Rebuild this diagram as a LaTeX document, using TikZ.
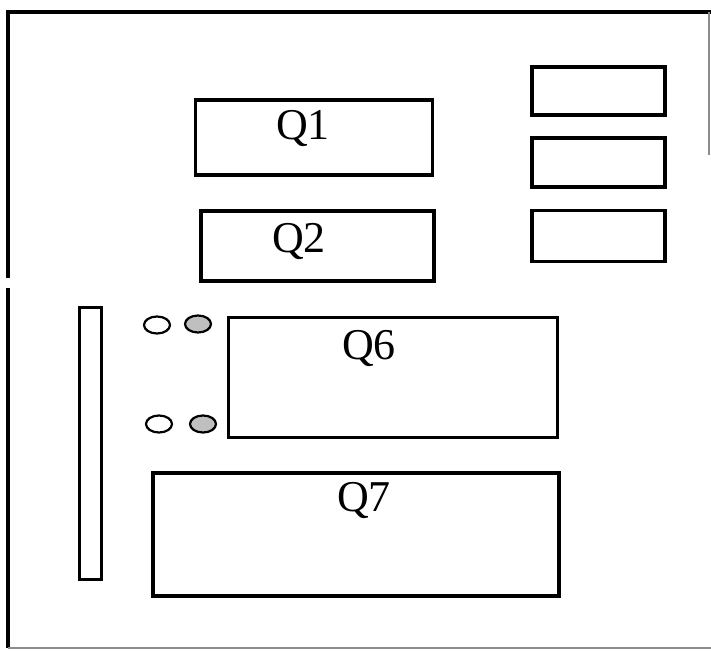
\documentclass[tikz,border=0pt]{standalone}
\usepackage{fontspec}
\setmainfont{Liberation Serif}
\usetikzlibrary{shapes.geometric}
\tikzset{
  box/.style={draw=black, line width=3.6pt, rectangle, inner sep=0pt},
  lbl/.style={font=\fontsize{44}{44}\selectfont, inner sep=0pt},
  hole/.style={draw=black, line width=2.2pt, ellipse, minimum width=26pt, minimum height=17pt, inner sep=0pt},
  frame/.style={line width=3.6pt},
  thinframe/.style={line width=1.2pt, draw=black!45}
}
\begin{document}
\begin{tikzpicture}[x=1pt,y=-1pt]
\useasboundingbox (0,0) rectangle (711,652);
% outer frame
\coordinate (tl) at (6,12);
\coordinate (tr) at (711,12);
\coordinate (lg1) at (8,278);
\coordinate (lg2) at (8,288);
\coordinate (bl) at (8,648);
\coordinate (br) at (711,648);
\coordinate (rt) at (709,12);
\coordinate (rb) at (709,155);
\draw[frame] (tl) -- (tr);
\draw[frame] (8,12) -- (lg1);
\draw[frame] (lg2) -- (bl);
\draw[thinframe] (bl) -- (br);
\draw[thinframe] (rt) -- (rb);
% boxes
\node[box, minimum width=237pt, minimum height=75pt] (q1) at (314,137.5) {};
\node[box, minimum width=233pt, minimum height=70pt] (q2) at (317.5,246) {};
\node[box, minimum width=133pt, minimum height=48pt] (r1) at (598.5,91) {};
\node[box, minimum width=133pt, minimum height=49pt] (r2) at (598.5,162.5) {};
\node[box, minimum width=133pt, minimum height=51pt] (r3) at (598.5,236) {};
\node[box, minimum width=22pt, minimum height=272pt] (bar) at (90.5,443.5) {};
\node[box, minimum width=329pt, minimum height=120pt] (q6) at (393,377.5) {};
\node[box, minimum width=406pt, minimum height=123pt] (q7) at (356,534.5) {};
% labels
\node[lbl] (t1) at (303,129) {Q1};
\node[lbl] (t2) at (299,241) {Q2};
\node[lbl] (t6) at (369,348) {Q6};
\node[lbl] (t7) at (364,500) {Q7};
% holes
\node[hole] (h1) at (157,325) {};
\node[hole, fill=black!25] (h2) at (198,324) {};
\node[hole] (h3) at (159,424) {};
\node[hole, fill=black!25] (h4) at (203,424) {};
\end{tikzpicture}
\end{document}
